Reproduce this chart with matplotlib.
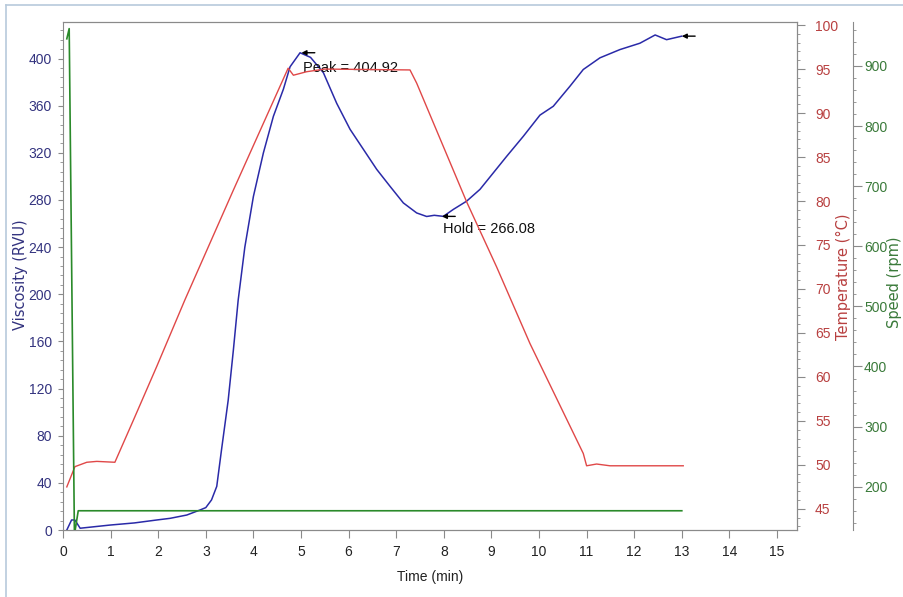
"""RVA pasting curve: viscosity, temperature and paddle speed vs time"""
import numpy as np
from matplotlib import pyplot as plt
from matplotlib.lines import Line2D
from matplotlib.ticker import MultipleLocator

# viscosity trace (RVU)
t_visc = [0.08, 0.18, 0.25, 0.36, 0.99, 1.5, 1.97, 2.25, 2.6, 2.88, 3.0, 3.12,
          3.23, 3.33, 3.47, 3.58, 3.68, 3.82, 4.0, 4.21, 4.42, 4.63, 4.77, 4.98,
          5.2, 5.47, 5.75, 6.03, 6.31, 6.59, 6.87, 7.15, 7.43, 7.64, 7.8, 7.99,
          8.2, 8.48, 8.76, 9.04, 9.32, 9.67, 10.02, 10.3, 10.65, 10.93, 11.28,
          11.7, 12.12, 12.44, 12.68, 13.0]
visc = [0, 8.5, 8.5, 1.5, 4.2, 6, 8.5, 9.9, 12.7, 17, 19, 25.5,
        37, 68, 110, 153, 195, 240, 283, 320, 351, 374, 393, 404.9,
        401, 388, 362, 340, 323, 306, 291.6, 277.5, 269, 266, 267, 266.1,
        272, 279, 289, 303, 317, 334, 352, 359.5, 376.5, 390.7, 400.6,
        407.6, 413, 420, 416, 419]
# temperature profile (deg C)
t_temp = [0.08, 0.25, 0.5, 0.71, 1.09, 1.48, 1.97, 2.56, 3.58, 4.73, 4.84,
          5.12, 5.5, 7.29, 7.43, 8.48, 9.11, 9.81, 10.93, 11.0, 11.21, 11.49, 13.03]
temp = [47.5, 49.8, 50.3, 50.4, 50.3, 55.1, 61.2, 68.75, 81.25, 95.1, 94.3,
        94.7, 95.0, 94.9, 93.4, 79.9, 72.5, 63.8, 51.3, 49.9, 50.1, 49.9, 49.9]
# paddle speed (rpm)
t_speed = [0.08, 0.13, 0.24, 0.32, 13.0]
speed = [945, 962, 120, 160, 160]
# markers
peak_t, peak_v = 5.01, 404.92
hold_t, hold_v = 7.96, 266.08
end_t, end_v = 13.0, 419

c_blue = '#2a2aa8'
c_red = '#e04848'
c_green = '#2a8a2a'
c_vlab = '#33337f'
c_tlab = '#b84040'
c_slab = '#3a7a3a'
c_spine = '#8a8a8a'

PX = 72 / 100  # points per pixel at dpi 100
tickfont = ['Liberation Sans', 'DejaVu Sans']

plt.rcParams['font.family'] = 'DejaVu Sans'
fig = plt.figure(figsize=(9.04, 5.97), dpi=100)
ax = fig.add_axes([63/904, 1-530/597, (797-63)/904, (530-22)/597])
ax2 = ax.twinx()
ax3 = ax.twinx()
ax3.spines['right'].set_position(('outward', 56*PX))

ax.plot(t_visc, visc, color=c_blue, lw=1.1, zorder=3)
ax2.plot(t_temp, temp, color=c_red, lw=1.0)
ax3.plot(t_speed, speed, color=c_green, lw=1.2)

ax.set_xlim(0, 15.42)
ax.set_ylim(0, 431)
ax2.set_ylim(42.6, 100.35)
ax3.set_ylim(128, 973)

ax.xaxis.set_major_locator(MultipleLocator(1))
ax.yaxis.set_major_locator(MultipleLocator(40))
ax.yaxis.set_minor_locator(MultipleLocator(8))
ax2.yaxis.set_major_locator(MultipleLocator(5))
ax2.yaxis.set_minor_locator(MultipleLocator(1))
ax3.yaxis.set_major_locator(MultipleLocator(100))
ax3.yaxis.set_minor_locator(MultipleLocator(20))

ax.tick_params(axis='x', length=8*PX, color=c_spine, labelcolor='#222222', pad=7*PX)
ax.tick_params(axis='y', which='major', length=5*PX, color=c_spine, labelcolor=c_vlab, pad=6*PX)
ax.tick_params(axis='y', which='minor', length=3*PX, color=c_spine)
ax2.tick_params(which='major', length=8*PX, color=c_spine, labelcolor=c_tlab, pad=10*PX)
ax2.tick_params(which='minor', length=3*PX, color=c_spine)
ax3.tick_params(which='major', length=9*PX, color=c_spine, labelcolor=c_slab, pad=2*PX)
ax3.tick_params(which='minor', length=3*PX, color=c_spine)
for a in (ax, ax2, ax3):
    for lab in a.get_xticklabels() + a.get_yticklabels():
        lab.set_fontsize(10)
        lab.set_family(tickfont)

for a in (ax, ax2, ax3):
    for s in a.spines.values():
        s.set_color(c_spine)
ax2.spines['left'].set_visible(False)
ax3.spines['left'].set_visible(False)
ax3.spines['top'].set_visible(False)
ax3.spines['bottom'].set_visible(False)

ax.set_xlabel('Time (min)', fontsize=10, family=tickfont, color='#222222', va='center')
ax.xaxis.set_label_coords(0.5, (530-577)/508)
ax.set_ylabel('Viscosity (RVU)', fontsize=10.5, color=c_vlab, va='center')
ax.yaxis.set_label_coords((21-63)/734, 0.502)
ax2.set_ylabel('Temperature (°C)', fontsize=10.5, color=c_tlab, va='center')
ax2.yaxis.set_label_coords((843-63)/734, 0.498)
ax3.set_ylabel('Speed (rpm)', fontsize=10.5, color=c_slab, va='center')
ax3.yaxis.set_label_coords((895-63)/734, 0.488)

arrow = dict(arrowstyle='-|>', color='black', lw=1.0, mutation_scale=7, shrinkA=0, shrinkB=0)
for mt, mv in [(peak_t, peak_v), (hold_t, hold_v), (end_t, end_v)]:
    ax.annotate('', xy=(mt, mv), xytext=(mt + 0.28, mv), arrowprops=arrow, zorder=4)
ax.text(peak_t + 0.03, 392, f'Peak = {peak_v:.2f}', fontsize=10.5, family=tickfont,
        va='center', ha='left', color='#111111', zorder=5)
ax.text(hold_t + 0.02, 255.5, f'Hold = {hold_v:.2f}', fontsize=10.5, family=tickfont,
        va='center', ha='left', color='#111111', zorder=5)

# light frame of the screenshot
fig.add_artist(Line2D([6/904, 1], [1-5/597, 1-5/597], color='#b8cadb', lw=1.2))
fig.add_artist(Line2D([6/904, 6/904], [0, 1-5/597], color='#b8cadb', lw=1.2))

fig.savefig('out.png', dpi=100)
